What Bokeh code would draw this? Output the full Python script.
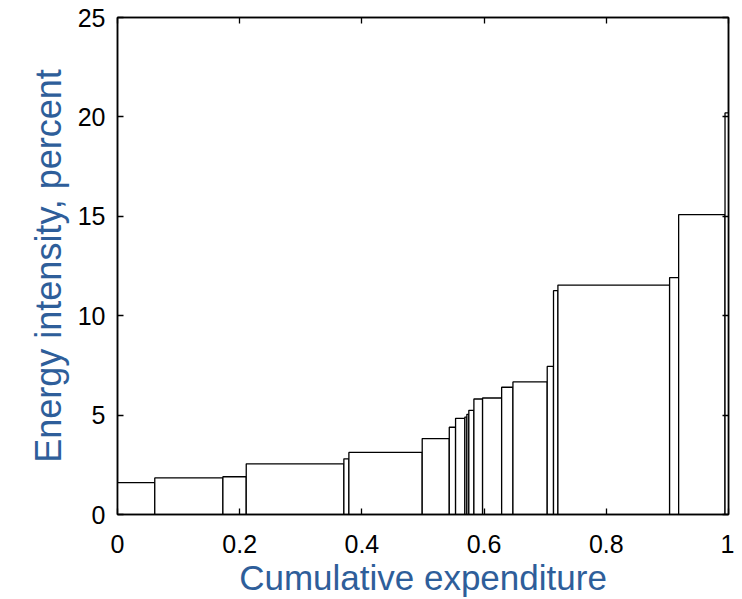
from bokeh.plotting import figure
from bokeh.models import LinearAxis, FixedTicker, Range1d
from bokeh.embed import file_html
from bokeh.resources import INLINE

# Cumulative expenditure edges of each sector bar
cum_edges = [0.0, 0.061, 0.1725, 0.2107, 0.3705, 0.3787, 0.4987, 0.543, 0.5533,
             0.5685, 0.5718, 0.575, 0.5833, 0.5975, 0.6287, 0.6472, 0.7033,
             0.7136, 0.7208, 0.9036, 0.9184, 0.9943, 1.0]
# Energy intensity (percent) for each bar
intensity = [1.6, 1.84, 1.9, 2.55, 2.8, 3.12, 3.82, 4.39, 4.84, 4.9, 5.04, 5.24,
             5.81, 5.86, 6.4, 6.67, 7.45, 11.26, 11.54, 11.92, 15.08, 20.2]

x_ticks = [0, 0.2, 0.4, 0.6, 0.8, 1]
x_tick_labels = ["0", "0.2", "0.4", "0.6", "0.8", "1"]
y_ticks = [0, 5, 10, 15, 20, 25]

x_title = "Cumulative expenditure"
y_title = "Energy intensity, percent"

FONT = "Liberation Sans"
LABEL_COLOR = "#2E5E9A"

p = figure(frame_width=611, frame_height=497, output_backend="svg",
           toolbar_location=None, x_range=Range1d(0, 1), y_range=Range1d(0, 25),
           x_axis_location=None, y_axis_location=None,
           min_border_left=117, min_border_top=17, min_border_right=6,
           min_border_bottom=77)
p.grid.visible = False
p.outline_line_color = "black"
p.outline_line_width = 1.5
p.background_fill_color = "white"
p.border_fill_color = "white"

p.quad(left=cum_edges[:-1], right=cum_edges[1:], bottom=0, top=intensity,
       fill_color="white", line_color="black", line_width=1.3)

def style(ax):
    ax.axis_line_color = "black"
    ax.axis_line_width = 1.5
    ax.major_tick_in = 6
    ax.major_tick_out = 0
    ax.minor_tick_in = 0
    ax.minor_tick_out = 0
    ax.major_tick_line_width = 1.3
    ax.major_label_text_font = FONT
    ax.major_label_text_font_size = "25px"
    ax.major_label_text_color = "black"
    ax.axis_label_text_font = FONT
    ax.axis_label_text_font_style = "normal"
    ax.axis_label_text_color = LABEL_COLOR

xb = LinearAxis(ticker=FixedTicker(ticks=x_ticks), axis_label=x_title)
xb.major_label_overrides = {t: l for t, l in zip(x_ticks, x_tick_labels)}
style(xb)
xb.axis_label_text_font_size = "35px"
xb.major_label_standoff = 20
xb.axis_label_standoff = 2
p.add_layout(xb, "below")

yl = LinearAxis(ticker=FixedTicker(ticks=y_ticks), axis_label=y_title)
style(yl)
yl.axis_label_text_font_size = "36px"
yl.major_label_standoff = 12
yl.axis_label_standoff = 6
p.add_layout(yl, "left")

# Unlabelled box axes with inward ticks on top and right
xt = LinearAxis(ticker=FixedTicker(ticks=x_ticks))
style(xt)
xt.major_label_overrides = {t: "" for t in x_ticks}
xt.major_label_standoff = 0
p.add_layout(xt, "above")

yr = LinearAxis(ticker=FixedTicker(ticks=y_ticks))
style(yr)
yr.major_label_overrides = {t: "" for t in y_ticks}
yr.major_label_standoff = 0
p.add_layout(yr, "right")

open("out.html", "w").write(file_html(p, INLINE))
